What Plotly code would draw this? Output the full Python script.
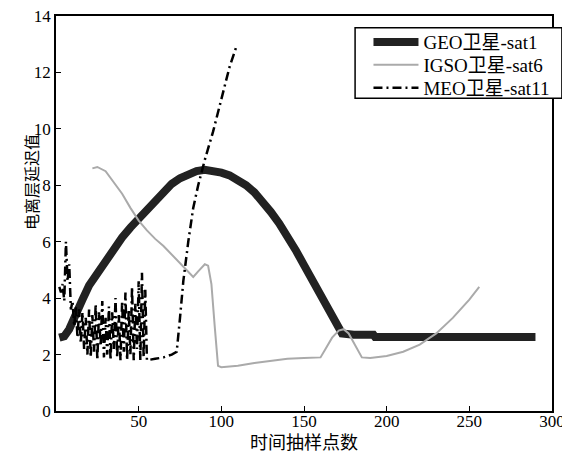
import plotly.graph_objects as go

# GEO satellite sat1
geo_x = [2, 5, 8, 12, 16, 20, 25, 30, 35, 40, 45, 50, 55, 60, 65, 70, 75, 80, 85, 90, 95,
         100, 105, 110, 115, 120, 125, 130, 135, 140, 145, 150, 155, 160, 165, 170, 173,
         180, 192, 193, 290]
geo_y = [2.6, 2.65, 2.9, 3.35, 3.95, 4.45, 4.9, 5.35, 5.8, 6.15, 6.5, 6.8, 7.1, 7.45, 7.8, 8.05,
         8.25, 8.4, 8.5, 8.55, 8.52, 8.45, 8.35, 8.2, 8.0, 7.75, 7.45, 7.05, 6.65, 6.2, 5.7,
         5.17, 4.65, 4.12, 3.6, 3.08, 2.75, 2.7, 2.7, 2.62, 2.62]

# IGSO satellite sat6
igso_x = [22, 25, 30, 35, 40, 45, 50, 55, 60, 65, 70, 75, 80, 83, 86, 90, 92, 94, 96, 98,
          100, 110, 120, 130, 140, 150, 160, 163, 167, 171, 174, 177, 181, 185, 190, 200,
          210, 220, 230, 240, 250, 256]
igso_y = [8.6, 8.65, 8.5, 8.1, 7.7, 7.2, 6.75, 6.4, 6.1, 5.85, 5.55, 5.25, 4.95, 4.75, 4.95,
          5.2, 5.15, 4.5, 3.0, 1.6, 1.55, 1.6, 1.7, 1.78, 1.85, 1.88, 1.9, 2.2, 2.6, 2.85, 2.9,
          2.75, 2.3, 1.9, 1.88, 1.95, 2.1, 2.35, 2.75, 3.3, 3.95, 4.4]

# MEO satellite sat11
meo_x = list(range(2, 56)) + [60, 65, 70, 73, 75, 77, 80, 83, 86, 90, 95, 100, 105, 109]
meo_y = [4.4, 4.2, 4.5, 3.9, 6.0, 4.6, 5.2, 3.6, 3.9, 3.0, 3.7, 2.6, 3.6, 2.4, 3.5, 2.2, 3.3,
         2.0, 3.6, 1.9, 3.4, 2.1, 3.8, 1.8, 3.5, 2.3, 3.9, 1.9, 3.3, 2.0, 3.7, 1.8, 3.5, 2.2,
         4.0, 1.9, 3.4, 1.8, 3.9, 2.1, 4.2, 1.8, 3.6, 2.0, 4.4, 1.8, 3.8, 2.2, 4.6, 1.8, 4.9,
         1.9, 4.3, 1.8,
         1.85, 1.9, 2.0, 2.1, 3.3, 4.6, 6.0, 7.2, 8.0, 8.9, 9.9, 11.0, 12.2, 12.9]

x_ticks = [50, 100, 150, 200, 250, 300]
y_ticks = [0, 2, 4, 6, 8, 10, 12, 14]

serif = "Liberation Serif, Times New Roman, Noto Sans CJK SC, serif"
cjk = "Noto Sans CJK SC, sans-serif"

fig = go.Figure()
fig.add_trace(go.Scatter(x=geo_x, y=geo_y, mode="lines", name="GEO卫星-sat1",
                         line=dict(color="#222222", width=8), legend="legend"))
fig.add_trace(go.Scatter(x=igso_x, y=igso_y, mode="lines", name="IGSO卫星-sat6",
                         line=dict(color="#aaaaaa", width=2), legend="legend2"))
fig.add_trace(go.Scatter(x=meo_x, y=meo_y, mode="lines", name="MEO卫星-sat11",
                         line=dict(color="#000000", width=2.5, dash="9px,4px,2px,4px"),
                         legend="legend3"))

leg_common = dict(x=0.63, xanchor="left", yanchor="middle", bgcolor="rgba(0,0,0,0)",
                  borderwidth=0, font=dict(family=serif, size=19, color="black"),
                  itemwidth=45)

axis_common = dict(showgrid=False, zeroline=False, showline=True, linecolor="black",
                   linewidth=1.5, mirror=True, ticks="inside", ticklen=5, tickwidth=1.2,
                   tickcolor="black", tickfont=dict(family=serif, size=17),
                   automargin=False, ticklabeloverflow="allow")

# page body has an 8px margin, so the figure is offset by 8px inside the window
fig.update_layout(
    width=562, height=445,
    margin=dict(l=48, r=18, t=8, b=42),
    paper_bgcolor="white", plot_bgcolor="white",
    font=dict(family=serif, size=17, color="black"),
    showlegend=True,
    legend=dict(y=0.934, **leg_common),
    legend2=dict(y=0.876, **leg_common),
    legend3=dict(y=0.818, **leg_common),
    xaxis=dict(range=[0, 300], tickvals=x_ticks, ticktext=[str(v) for v in x_ticks],
               ticklabelstandoff=-6, **axis_common),
    yaxis=dict(range=[0, 14], tickvals=y_ticks, ticktext=[str(v) for v in y_ticks],
               **axis_common),
    shapes=[dict(type="rect", xref="paper", yref="paper", x0=0.603, x1=1.02,
                 y0=0.792, y1=0.970, line=dict(color="black", width=1.5),
                 fillcolor="white", layer="above")],
    annotations=[
        dict(text="时间抽样点数", x=0.5, xref="paper", y=-0.0759, yref="paper",
             xanchor="center", yanchor="middle", showarrow=False,
             font=dict(family=cjk, size=18, color="black")),
        dict(text="电离层延迟值", x=-0.05, xref="paper", y=0.58, yref="paper",
             xanchor="center", yanchor="middle", showarrow=False, textangle=-90,
             font=dict(family=cjk, size=16, color="black")),
    ],
)

fig.write_html("out.html")
